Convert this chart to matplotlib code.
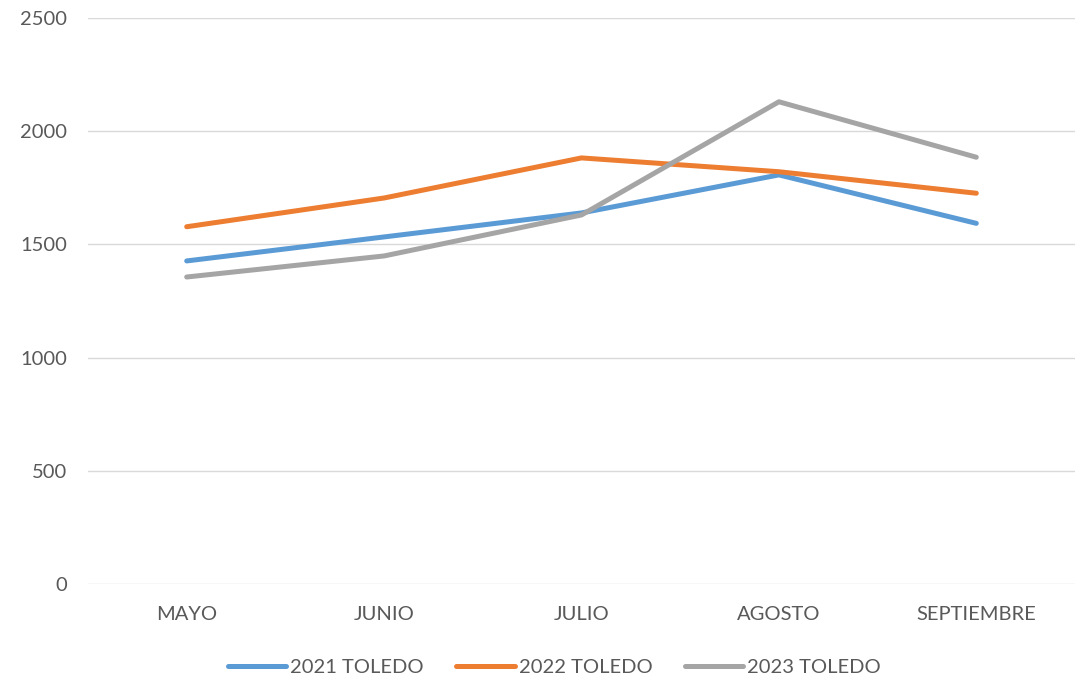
import matplotlib.pyplot as plt

# Data
months = ["MAYO", "JUNIO", "JULIO", "AGOSTO", "SEPTIEMBRE"]
toledo_2021 = [1427, 1533, 1639, 1807, 1593]
toledo_2022 = [1578, 1705, 1882, 1821, 1726]
toledo_2023 = [1356, 1449, 1630, 2130, 1885]

plt.rcParams["font.family"] = ["Lato", "DejaVu Sans"]

fig = plt.figure(figsize=(10.83, 6.82), dpi=100)
ax = fig.add_axes([88 / 1083, 1 - 584 / 682, (1075 - 88) / 1083, (584 - 18) / 682])

x = range(len(months))
series = [
    (toledo_2021, "2021 TOLEDO", "#5B9BD5"),
    (toledo_2022, "2022 TOLEDO", "#ED7D31"),
    (toledo_2023, "2023 TOLEDO", "#A5A5A5"),
]
for vals, label, color in series:
    ax.plot(x, vals, color=color, lw=3.6, label=label,
            solid_capstyle="round", solid_joinstyle="round")

ax.set_xlim(-0.5, len(months) - 0.5)
ax.set_ylim(0, 2500)
ax.set_yticks(range(0, 2501, 500))
ax.set_xticks(list(x))
ax.set_xticklabels(months)

ax.grid(axis="y", color="#D9D9D9", lw=1)
ax.set_axisbelow(True)
for s in ax.spines.values():
    s.set_visible(False)
ax.tick_params(length=0, labelsize=14.5, labelcolor="#595959")
ax.tick_params(axis="y", pad=15)
ax.tick_params(axis="x", pad=16)

fig.legend(loc="lower center", ncol=3, frameon=False, fontsize=14.5,
           labelcolor="#595959", bbox_to_anchor=(0.512, -0.018),
           handlelength=2.9, handletextpad=0.2, columnspacing=1.6)

fig.savefig("out.png", dpi=100)
